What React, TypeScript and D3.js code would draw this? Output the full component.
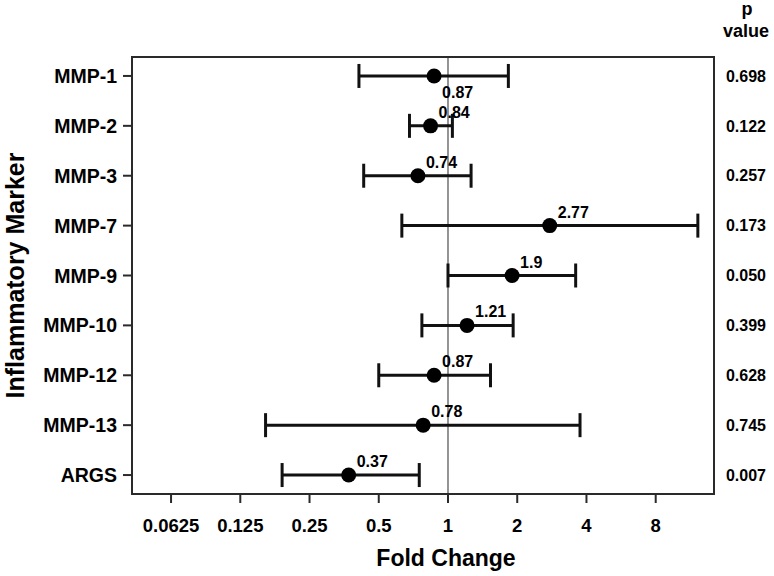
import React from "react";
import * as d3 from "d3";

const markers = ["MMP-1", "MMP-2", "MMP-3", "MMP-7", "MMP-9", "MMP-10", "MMP-12", "MMP-13", "ARGS"];
const foldChange = [0.87, 0.84, 0.74, 2.77, 1.9, 1.21, 0.87, 0.78, 0.37];
const lowerCI = [0.41, 0.68, 0.43, 0.63, 1.0, 0.77, 0.5, 0.161, 0.19];
const upperCI = [1.83, 1.045, 1.26, 12.2, 3.59, 1.92, 1.53, 3.75, 0.75];
const pValues = ["0.698", "0.122", "0.257", "0.173", "0.050", "0.399", "0.628", "0.745", "0.007"];
const xTicks = [0.0625, 0.125, 0.25, 0.5, 1, 2, 4, 8];
const xTickLabels = ["0.0625", "0.125", "0.25", "0.5", "1", "2", "4", "8"];

const W = 774;
const H = 576;
const left = 132;
const right = 714;
const top = 57;
const bottom = 494;
const FONT = "'Liberation Sans', Arial, Helvetica, sans-serif";

export default function App() {
  const x = d3
    .scaleLog()
    .base(2)
    .domain([Math.pow(2, -4.564), Math.pow(2, 3.842)])
    .range([left, right]);
  const y = d3.scalePoint<string>().domain(markers).range([top, bottom]).padding(0.38);

  const capHalf = 12;

  return (
    <svg
      width={W}
      height={H}
      style={{ position: "absolute", left: 0, top: 0, background: "#fff" }}
      fontFamily={FONT}
      fontWeight="bold"
    >
      <rect x={0} y={0} width={W} height={H} fill="#fff" />
      {/* reference line at 1 */}
      <line x1={x(1)} x2={x(1)} y1={top} y2={bottom} stroke="#7a7a7a" strokeWidth={1.6} />
      {/* plot frame */}
      <rect x={left} y={top} width={right - left} height={bottom - top} fill="none" stroke="#2a2a2a" strokeWidth={2} />

      {/* y ticks and labels */}
      {markers.map((m) => (
        <g key={m}>
          <line x1={left - 9} x2={left} y1={y(m)} y2={y(m)} stroke="#2a2a2a" strokeWidth={2} />
          <text x={117} y={y(m)!} dy="0.36em" textAnchor="end" fontSize={19.5} fill="#000">
            {m}
          </text>
        </g>
      ))}

      {/* x ticks and labels */}
      {xTicks.map((t, i) => (
        <g key={t}>
          <line x1={x(t)} x2={x(t)} y1={bottom} y2={bottom + 9} stroke="#2a2a2a" strokeWidth={2} />
          <text x={x(t)} y={532} textAnchor="middle" fontSize={18.5} fill="#000">
            {xTickLabels[i]}
          </text>
        </g>
      ))}

      {/* error bars and points */}
      {markers.map((m, i) => {
        const cy = y(m)!;
        const x0 = x(lowerCI[i]);
        const x1 = x(upperCI[i]);
        const cx = x(foldChange[i]);
        return (
          <g key={"e" + m}>
            <line x1={x0} x2={x1} y1={cy} y2={cy} stroke="#111" strokeWidth={3} />
            <line x1={x0} x2={x0} y1={cy - capHalf} y2={cy + capHalf} stroke="#111" strokeWidth={3} />
            <line x1={x1} x2={x1} y1={cy - capHalf} y2={cy + capHalf} stroke="#111" strokeWidth={3} />
            <circle cx={cx} cy={cy} r={7.5} fill="#000" />
            <text x={cx + 8} y={i === 0 ? cy + 22 : cy - 8} fontSize={16} fill="#000">
              {String(foldChange[i])}
            </text>
          </g>
        );
      })}

      {/* p values */}
      <text x={747} y={15} textAnchor="middle" fontSize={18} fill="#000">
        p
      </text>
      <text x={746} y={37} textAnchor="middle" fontSize={18} fill="#000">
        value
      </text>
      {markers.map((m, i) => (
        <text key={"p" + m} x={746} y={y(m)!} dy="0.36em" textAnchor="middle" fontSize={16} fill="#000">
          {pValues[i]}
        </text>
      ))}

      {/* axis titles */}
      <text x={446} y={566} textAnchor="middle" fontSize={23} fill="#000">
        Fold Change
      </text>
      <text
        transform={`translate(24, ${(top + bottom) / 2}) rotate(-90)`}
        textAnchor="middle"
        fontSize={25}
        fill="#000"
      >
        Inflammatory Marker
      </text>
    </svg>
  );
}
